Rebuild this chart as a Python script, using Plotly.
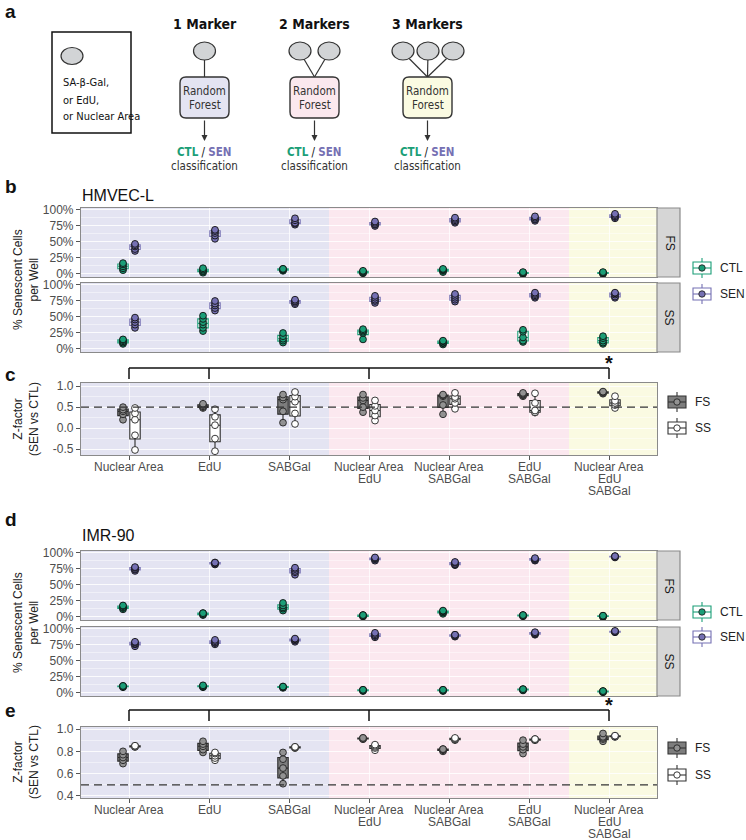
import plotly.graph_objects as go

W, H = 746, 840

# ---------------- data ----------------
categories = ["Nuclear Area", "EdU", "SABGal", "Nuclear Area<br>EdU",
              "Nuclear Area<br>SABGal", "EdU<br>SABGal", "Nuclear Area<br>EdU<br>SABGal"]

# HMVEC-L, % senescent cells per well
hmvec_fs_ctl = [[6, 9, 12, 15, 17], [2, 4, 5, 7, 9], [5, 6, 7, 8, 8], [1, 2, 3, 4, 5],
                [3, 5, 6, 7, 8], [0, 1, 2, 2, 3], [0, 1, 2, 2, 3]]
hmvec_fs_sen = [[36, 39, 43, 45, 47], [55, 60, 64, 67, 69], [77, 79, 80, 84, 87], [75, 77, 78, 80, 82],
                [80, 82, 84, 86, 88], [83, 85, 86, 88, 90], [87, 89, 90, 92, 94]]
hmvec_ss_ctl = [[8, 10, 12, 14, 15], [28, 33, 38, 42, 47, 52], [10, 13, 16, 20, 25], [15, 25, 27, 29, 31],
                [7, 9, 10, 12, 13], [11, 13, 18, 27, 30], [8, 10, 13, 17, 20]]
hmvec_ss_sen = [[33, 38, 42, 46, 49], [60, 64, 68, 71, 75], [70, 72, 74, 75, 77], [72, 75, 77, 80, 83],
                [74, 77, 80, 83, 86], [80, 82, 84, 86, 88], [80, 82, 85, 87, 88]]

# HMVEC-L, Z-factor
hmvec_z_fs = [[0.20, 0.33, 0.40, 0.44, 0.50], [0.48, 0.50, 0.52, 0.55, 0.58], [0.13, 0.40, 0.68, 0.73, 0.80],
              [0.38, 0.50, 0.66, 0.72, 0.80], [0.33, 0.55, 0.76, 0.78, 0.80], [0.76, 0.78, 0.80, 0.82, 0.84],
              [0.82, 0.84, 0.85, 0.86, 0.87]]
hmvec_z_ss = [[-0.52, -0.17, 0.20, 0.35, 0.48], [-0.55, -0.25, 0.07, 0.27, 0.45], [0.10, 0.35, 0.63, 0.75, 0.86],
              [0.18, 0.30, 0.42, 0.53, 0.66], [0.46, 0.60, 0.70, 0.74, 0.84], [0.37, 0.38, 0.42, 0.60, 0.83],
              [0.48, 0.55, 0.60, 0.65, 0.76]]

# IMR-90, % senescent cells per well
imr_fs_ctl = [[12, 14, 15, 17, 18], [3, 4, 5, 6, 6], [10, 13, 15, 18, 22], [1, 1, 2, 3, 3],
              [5, 7, 8, 9, 10], [1, 2, 2, 3, 3], [0, 1, 1, 2, 2]]
imr_fs_sen = [[72, 74, 75, 77, 78], [82, 83, 84, 85, 85], [66, 70, 72, 75, 77], [88, 90, 91, 92, 93],
              [81, 82, 83, 85, 86], [88, 89, 90, 91, 92], [93, 94, 94, 95, 95]]
imr_ss_ctl = [[9, 10, 10, 11, 11], [9, 10, 10, 11, 12], [8, 9, 9, 10, 10], [3, 4, 4, 5, 5],
              [3, 4, 4, 5, 5], [4, 5, 5, 6, 6], [1, 2, 2, 3, 3]]
imr_ss_sen = [[73, 76, 77, 79, 80], [76, 78, 79, 81, 83], [80, 82, 83, 84, 85], [87, 89, 90, 92, 94],
              [88, 89, 90, 91, 91], [91, 92, 93, 94, 95], [95, 95, 96, 96, 97]]

# IMR-90, Z-factor
imr_z_fs = [[0.69, 0.72, 0.745, 0.77, 0.80], [0.79, 0.815, 0.845, 0.865, 0.89], [0.51, 0.58, 0.65, 0.73, 0.79],
            [0.91, 0.91, 0.915, 0.92, 0.92], [0.80, 0.81, 0.815, 0.82, 0.82], [0.78, 0.815, 0.84, 0.865, 0.90],
            [0.89, 0.91, 0.92, 0.93, 0.96]]
imr_z_ss = [[0.84, 0.84, 0.845, 0.85, 0.85], [0.72, 0.74, 0.76, 0.78, 0.79], [0.83, 0.83, 0.835, 0.84, 0.84],
            [0.81, 0.83, 0.84, 0.85, 0.86], [0.90, 0.905, 0.91, 0.915, 0.92], [0.90, 0.90, 0.905, 0.91, 0.91],
            [0.93, 0.93, 0.935, 0.94, 0.94]]

pct_ticks = [0, 25, 50, 75, 100]
pct_labels = ["0%", "25%", "50%", "75%", "100%"]
zc_ticks = [-0.5, 0.0, 0.5, 1.0]
zc_labels = ["-0.5", "0.0", "0.5", "1.0"]
ze_ticks = [0.4, 0.6, 0.8, 1.0]
ze_labels = ["0.4", "0.6", "0.8", "1.0"]
z_threshold = 0.5
bracket_groups = [0, 1, 3, 6]

# ---------------- styling ----------------
GREEN, PURPLE = "#1b9e77", "#7570b3"
BLUE_BG, PINK_BG, YEL_BG = "#e4e4f2", "#fbe8ef", "#fafae2"
FONT = "Liberation Sans, Arial, sans-serif"
NARROW = "Liberation Sans Narrow, DejaVu Sans Condensed, Liberation Sans, sans-serif"
TICKC = "#4d4d4d"
BORDER = "#8a8a8a"
DODGE = 0.075
BOXW = 0.13


def px(x):
    return x / W


def py(y):
    return 1 - y / H


X_DOM = [px(81), px(657)]
panels = {1: (208, 277), 2: (283, 352), 3: (383, 455), 4: (551, 620), 5: (627, 696), 6: (727, 798)}
cat_pos = list(range(len(categories)))

fig = go.Figure()


def add_box(k, data, side, line_col, fill_col, pt_col, pt_line):
    xs, ys = [], []
    for pos, vals in zip(cat_pos, data):
        xs += [pos + side * DODGE] * len(vals)
        ys += vals
    sfx = "" if k == 1 else str(k)
    fig.add_trace(go.Box(
        x=xs, y=ys, xaxis="x" + sfx, yaxis="y" + sfx, width=BOXW,
        boxpoints="all", jitter=0, pointpos=0, whiskerwidth=0,
        line=dict(color=line_col, width=1.1), fillcolor=fill_col,
        marker=dict(color=pt_col, size=6.8, line=dict(color=pt_line, width=0.9)),
        showlegend=False))


add_box(1, hmvec_fs_ctl, -1, GREEN, "white", GREEN, "#111")
add_box(1, hmvec_fs_sen, 1, PURPLE, "white", PURPLE, "#111")
add_box(2, hmvec_ss_ctl, -1, GREEN, "white", GREEN, "#111")
add_box(2, hmvec_ss_sen, 1, PURPLE, "white", PURPLE, "#111")
add_box(3, hmvec_z_fs, -1, "#2b2b2b", "#7d7d7d", "#929292", "#222")
add_box(3, hmvec_z_ss, 1, "#2b2b2b", "white", "white", "#222")
add_box(4, imr_fs_ctl, -1, GREEN, "white", GREEN, "#111")
add_box(4, imr_fs_sen, 1, PURPLE, "white", PURPLE, "#111")
add_box(5, imr_ss_ctl, -1, GREEN, "white", GREEN, "#111")
add_box(5, imr_ss_sen, 1, PURPLE, "white", PURPLE, "#111")
add_box(6, imr_z_fs, -1, "#2b2b2b", "#7d7d7d", "#929292", "#222")
add_box(6, imr_z_ss, 1, "#2b2b2b", "white", "white", "#222")

layout = dict(width=W, height=H, margin=dict(l=0, r=0, t=0, b=0, autoexpand=False),
              plot_bgcolor="white", paper_bgcolor="white", boxmode="overlay",
              font=dict(family=FONT, color="#222"), showlegend=False)

shapes = []
annotations = []


def note(x, y, text, size=12, color="#222", family=FONT, xanchor="center", xref="paper",
         angle=0, pad=1):
    annotations.append(dict(x=x if xref != "paper" else px(x), y=py(y), xref=xref, yref="paper",
                            text=text, xanchor=xanchor, yanchor="middle", showarrow=False,
                            textangle=angle, borderpad=pad,
                            font=dict(size=size, color=color, family=family)))


for k, (top, bot) in panels.items():
    sfx = "" if k == 1 else str(k)
    bottom_labels = k in (3, 6)
    xa = dict(domain=X_DOM, anchor="y" + sfx, range=[-0.6, 6.6], automargin=False,
              tickmode="array", tickvals=cat_pos,
              showgrid=True, gridcolor="rgba(255,255,255,0.75)", gridwidth=1,
              showline=True, mirror=True, linecolor=BORDER, linewidth=1.2,
              showticklabels=False, ticks="outside" if bottom_labels else "",
              ticklen=4, tickcolor="#555", zeroline=False)
    if k in (1, 2, 4, 5):
        ytick, ylab, yr = pct_ticks, pct_labels, [-4.7, 103.1]
        minor = 12.5
    elif k == 3:
        ytick, ylab, yr = zc_ticks, zc_labels, [-0.64, 1.075]
        minor = 0.25
    else:
        ytick, ylab, yr = ze_ticks, ze_labels, [0.382, 1.018]
        minor = 0.1
    ya = dict(domain=[py(bot), py(top)], anchor="x" + sfx, range=yr, automargin=False,
              tickmode="array", tickvals=ytick, ticktext=ylab,
              showgrid=True, gridcolor="rgba(255,255,255,0.75)", gridwidth=1,
              minor=dict(showgrid=True, gridcolor="rgba(255,255,255,0.45)", gridwidth=0.6,
                         tickmode="linear", dtick=minor, tick0=0),
              showline=True, mirror=True, linecolor=BORDER, linewidth=1.2,
              ticks="outside", ticklen=4, tickcolor="#555",
              tickfont=dict(size=12, color=TICKC), zeroline=False)
    layout["xaxis" + sfx] = xa
    layout["yaxis" + sfx] = ya
    # background bands
    for x0, x1, col in [(-0.6, 2.5, BLUE_BG), (2.5, 5.5, PINK_BG), (5.5, 6.6, YEL_BG)]:
        shapes.append(dict(type="rect", xref="x" + sfx, yref="y" + sfx + " domain",
                           x0=x0, x1=x1, y0=0, y1=1, fillcolor=col, line_width=0, layer="below"))
    if bottom_labels:
        shapes.append(dict(type="line", xref="x" + sfx, yref="y" + sfx,
                           x0=-0.6, x1=6.6, y0=z_threshold, y1=z_threshold,
                           line=dict(color="#333", width=1.3, dash="8px,5px"), layer="above"))
        # category labels (multi-line, tight spacing) below the panel
        for pos, cat in zip(cat_pos, categories):
            for i, line in enumerate(cat.split("<br>")):
                note(pos, bot + 12 + 11.8 * i, line, size=12, color=TICKC, xref="x" + sfx, pad=0)
    # facet strips
    if k in (1, 2, 4, 5):
        shapes.append(dict(type="rect", xref="paper", yref="paper", x0=px(657), x1=px(680),
                           y0=py(bot), y1=py(top), fillcolor="#d6d6d6",
                           line=dict(color=BORDER, width=1.2)))
        note(669, (top + bot) / 2, "FS" if k in (1, 4) else "SS", size=12, color="#1a1a1a", angle=90)

# brackets above Z-factor panels
for sfx, ybar, ystar in [("3", 368, 363), ("6", 710, 705)]:
    xs = bracket_groups
    shapes.append(dict(type="line", xref="x" + sfx, yref="paper", x0=xs[0], x1=xs[-1],
                       y0=py(ybar), y1=py(ybar), line=dict(color="#111", width=1.5)))
    for xv in xs:
        shapes.append(dict(type="line", xref="x" + sfx, yref="paper", x0=xv, x1=xv,
                           y0=py(ybar), y1=py(ybar + 11), line=dict(color="#111", width=1.5)))
    note(xs[-1], ystar, "<b>*</b>", size=20, color="#111", xref="x" + sfx)


# legends
def legend_key(cx, cy, line_col, fill_col, pt_col, label):
    shapes.append(dict(type="line", xref="paper", yref="paper", x0=px(cx), x1=px(cx),
                       y0=py(cy - 10), y1=py(cy + 10), line=dict(color=line_col, width=1.1)))
    shapes.append(dict(type="rect", xref="paper", yref="paper", x0=px(cx - 9), x1=px(cx + 9),
                       y0=py(cy - 6), y1=py(cy + 6), fillcolor=fill_col,
                       line=dict(color=line_col, width=1.1)))
    shapes.append(dict(type="line", xref="paper", yref="paper", x0=px(cx - 9), x1=px(cx + 9),
                       y0=py(cy), y1=py(cy), line=dict(color=line_col, width=1.1)))
    shapes.append(dict(type="circle", xref="paper", yref="paper", x0=px(cx - 3.2), x1=px(cx + 3.2),
                       y0=py(cy - 3.2), y1=py(cy + 3.2), fillcolor=pt_col,
                       line=dict(color="#222", width=0.9)))
    note(cx + 17, cy, label, size=12, color="#222", xanchor="left", pad=0)


legend_key(702, 268, GREEN, "white", GREEN, "CTL")
legend_key(702, 294, PURPLE, "white", PURPLE, "SEN")
legend_key(677, 402, "#333", "#7d7d7d", "#929292", "FS")
legend_key(677, 428, "#333", "white", "white", "SS")
legend_key(702, 612, GREEN, "white", GREEN, "CTL")
legend_key(702, 637, PURPLE, "white", PURPLE, "SEN")
legend_key(677, 748, "#333", "#7d7d7d", "#929292", "FS")
legend_key(677, 775, "#333", "white", "white", "SS")

# panel labels / titles / axis titles
for lbl, yy in [("a", 12), ("b", 186), ("c", 374), ("d", 519), ("e", 710)]:
    note(3, yy, "<b>%s</b>" % lbl, size=19, color="#111", xanchor="left")
note(80, 195, "HMVEC-L", size=16, color="#111", xanchor="left")
note(80, 535, "IMR-90", size=16, color="#111", xanchor="left")
for yy, txt_ in [(280, "% Senescent Cells<br>per Well"), (419, "Z-factor<br>(SEN vs CTL)"),
                 (623, "% Senescent Cells<br>per Well"), (762, "Z-factor<br>(SEN vs CTL)")]:
    note(26, yy, txt_, size=12, color="#222", angle=-90, pad=0)

# ---------------- panel a diagram ----------------
OVAL = "#d2d4d6"


def oval(cx, cy, w=22, h=17):
    shapes.append(dict(type="circle", xref="paper", yref="paper", x0=px(cx - w / 2), x1=px(cx + w / 2),
                       y0=py(cy + h / 2), y1=py(cy - h / 2), fillcolor=OVAL,
                       line=dict(color="#333", width=1.2)))


def pline(x0, y0, x1, y1, w=1.2):
    shapes.append(dict(type="line", xref="paper", yref="paper", x0=px(x0), x1=px(x1),
                       y0=py(y0), y1=py(y1), line=dict(color="#333", width=w)))


def rrect(x0, y0, x1, y1, r, fill):
    def P(x, y):
        return "%.5f,%.5f" % (px(x), py(y))
    path = ("M " + P(x0 + r, y0) + " L " + P(x1 - r, y0) + " Q " + P(x1, y0) + " " + P(x1, y0 + r) +
            " L " + P(x1, y1 - r) + " Q " + P(x1, y1) + " " + P(x1 - r, y1) +
            " L " + P(x0 + r, y1) + " Q " + P(x0, y1) + " " + P(x0, y1 - r) +
            " L " + P(x0, y0 + r) + " Q " + P(x0, y0) + " " + P(x0 + r, y0) + " Z")
    shapes.append(dict(type="path", xref="paper", yref="paper", path=path, fillcolor=fill,
                       line=dict(color="#333", width=1.4)))


# left legend box
shapes.append(dict(type="rect", xref="paper", yref="paper", x0=px(52), x1=px(131),
                   y0=py(133), y1=py(32), line=dict(color="#111", width=1.5), fillcolor="white"))
oval(72, 56, 22, 17)
note(61, 83, "SA-β-Gal,", size=11, color="#111", family=NARROW, xanchor="left")
note(61, 100, "or EdU,", size=11, color="#111", family=NARROW, xanchor="left")
note(61, 117, "or Nuclear Area", size=11, color="#111", family=NARROW, xanchor="left")

diagram = [("1 Marker", 204.5, [204.5], BLUE_BG),
           ("2 Markers", 314.5, [300, 329], "#fbe8ee"),
           ("3 Markers", 427.5, [403, 428, 453], "#fbfbe2")]
for title, cx, ovals, fill in diagram:
    note(cx, 24, "<b>%s</b>" % title, size=14, color="#111", family=NARROW)
    for ox in ovals:
        sx = ox + (cx - ox) * 0.25 if ox != cx else ox
        pline(sx, 59.5 if ox == cx else 58.5, cx, 77)
        oval(ox, 51, 22, 18)
    rrect(cx - 24.5, 77, cx + 24.5, 118, 6, fill)
    note(cx, 90.5, "Random", size=11.5, color="#333", family=NARROW)
    note(cx, 105, "Forest", size=11.5, color="#333", family=NARROW)
    annotations.append(dict(x=px(cx), y=py(141), xref="paper", yref="paper", ax=0, ay=-22,
                            text="", showarrow=True, arrowhead=2,
                            arrowsize=1, arrowwidth=1.2, arrowcolor="#333"))
    note(cx, 152, "<b><span style='color:%s'>CTL</span></b> / <b><span style='color:%s'>SEN</span></b>"
         % (GREEN, PURPLE), size=11.5, color="#111", family=NARROW)
    note(cx, 166, "classification", size=11.5, color="#333", family=NARROW)

layout["shapes"] = shapes
layout["annotations"] = annotations
fig.update_layout(**layout)
fig.write_html("out.html", config={"displayModeBar": False},
               post_script="document.body.style.margin='0px';")
